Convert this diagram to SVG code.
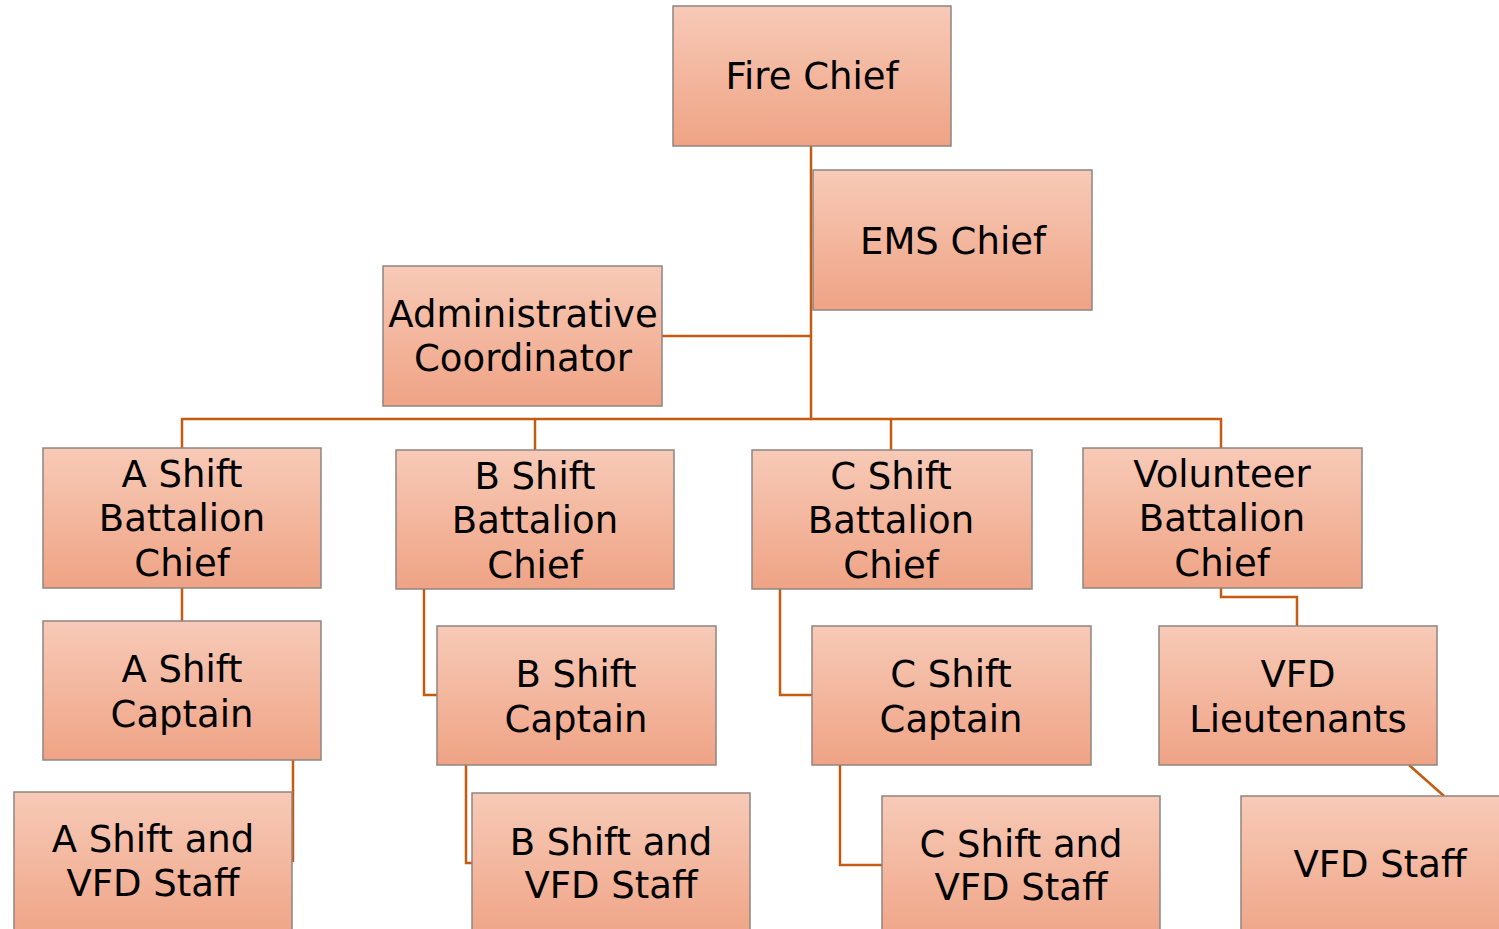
<svg xmlns="http://www.w3.org/2000/svg" width="1499" height="929" viewBox="0 0 1499 929">
<defs>
<linearGradient id="g" x1="0" y1="0" x2="0" y2="1">
<stop offset="0" stop-color="#F7CAB7"/>
<stop offset="1" stop-color="#EFA385"/>
</linearGradient>
<style>
.box{fill:url(#g);stroke:#8E8581;stroke-width:1.5}
.t{font-family:"DejaVu Sans","Liberation Sans",sans-serif;font-size:37px;fill:#000;text-anchor:middle}
.c{fill:none;stroke:#C55A11;stroke-width:2.5}
</style>
</defs>
<rect width="1499" height="929" fill="#fff"/>
<g id="connectors">
<path class="c" d="M811 146V419"/>
<path class="c" d="M662 336H811"/>
<path class="c" d="M182 448V419H1221V448"/>
<path class="c" d="M535 419V450"/>
<path class="c" d="M891 419V450"/>
<path class="c" d="M182 588V621"/>
<path class="c" d="M293 760V862"/>
<path class="c" d="M424 589V695H437"/>
<path class="c" d="M466 765V863H472"/>
<path class="c" d="M780 589V695H812"/>
<path class="c" d="M840 765V865H882"/>
<path class="c" d="M1221 588V597H1297V626"/>
<path class="c" d="M1409 765L1444 796"/>
</g>
<g id="fire-chief"><rect class="box" x="673" y="6" width="278" height="140"/><text class="t" x="812" y="89">Fire Chief</text></g>
<g id="ems-chief"><rect class="box" x="813" y="170" width="279" height="140"/><text class="t" x="953" y="254">EMS Chief</text></g>
<g id="admin-coordinator"><rect class="box" x="383" y="266" width="279" height="140"/><text class="t" x="523" y="327">Administrative</text><text class="t" x="523" y="371">Coordinator</text></g>
<g id="a-shift-bc"><rect class="box" x="43" y="448" width="278" height="140"/><text class="t" x="182" y="487">A Shift</text><text class="t" x="182" y="531">Battalion</text><text class="t" x="182" y="576">Chief</text></g>
<g id="b-shift-bc"><rect class="box" x="396" y="450" width="278" height="139"/><text class="t" x="535" y="489">B Shift</text><text class="t" x="535" y="533">Battalion</text><text class="t" x="535" y="578">Chief</text></g>
<g id="c-shift-bc"><rect class="box" x="752" y="450" width="280" height="139"/><text class="t" x="891" y="489">C Shift</text><text class="t" x="891" y="533">Battalion</text><text class="t" x="891" y="578">Chief</text></g>
<g id="volunteer-bc"><rect class="box" x="1083" y="448" width="279" height="140"/><text class="t" x="1222" y="487">Volunteer</text><text class="t" x="1222" y="531">Battalion</text><text class="t" x="1222" y="576">Chief</text></g>
<g id="a-shift-captain"><rect class="box" x="43" y="621" width="278" height="139"/><text class="t" x="182" y="682">A Shift</text><text class="t" x="182" y="727">Captain</text></g>
<g id="b-shift-captain"><rect class="box" x="437" y="626" width="279" height="139"/><text class="t" x="576" y="687">B Shift</text><text class="t" x="576" y="732">Captain</text></g>
<g id="c-shift-captain"><rect class="box" x="812" y="626" width="279" height="139"/><text class="t" x="951" y="687">C Shift</text><text class="t" x="951" y="732">Captain</text></g>
<g id="vfd-lieutenants"><rect class="box" x="1159" y="626" width="278" height="139"/><text class="t" x="1298" y="687">VFD</text><text class="t" x="1298" y="732">Lieutenants</text></g>
<g id="a-shift-staff"><rect class="box" x="14" y="792" width="278" height="150"/><text class="t" x="153" y="852">A Shift and</text><text class="t" x="153" y="896">VFD Staff</text></g>
<g id="b-shift-staff"><rect class="box" x="472" y="793" width="278" height="150"/><text class="t" x="611" y="855">B Shift and</text><text class="t" x="611" y="898">VFD Staff</text></g>
<g id="c-shift-staff"><rect class="box" x="882" y="796" width="278" height="150"/><text class="t" x="1021" y="857">C Shift and</text><text class="t" x="1021" y="900">VFD Staff</text></g>
<g id="vfd-staff"><rect class="box" x="1241" y="796" width="270" height="150"/><text class="t" x="1380" y="877">VFD Staff</text></g>
</svg>
